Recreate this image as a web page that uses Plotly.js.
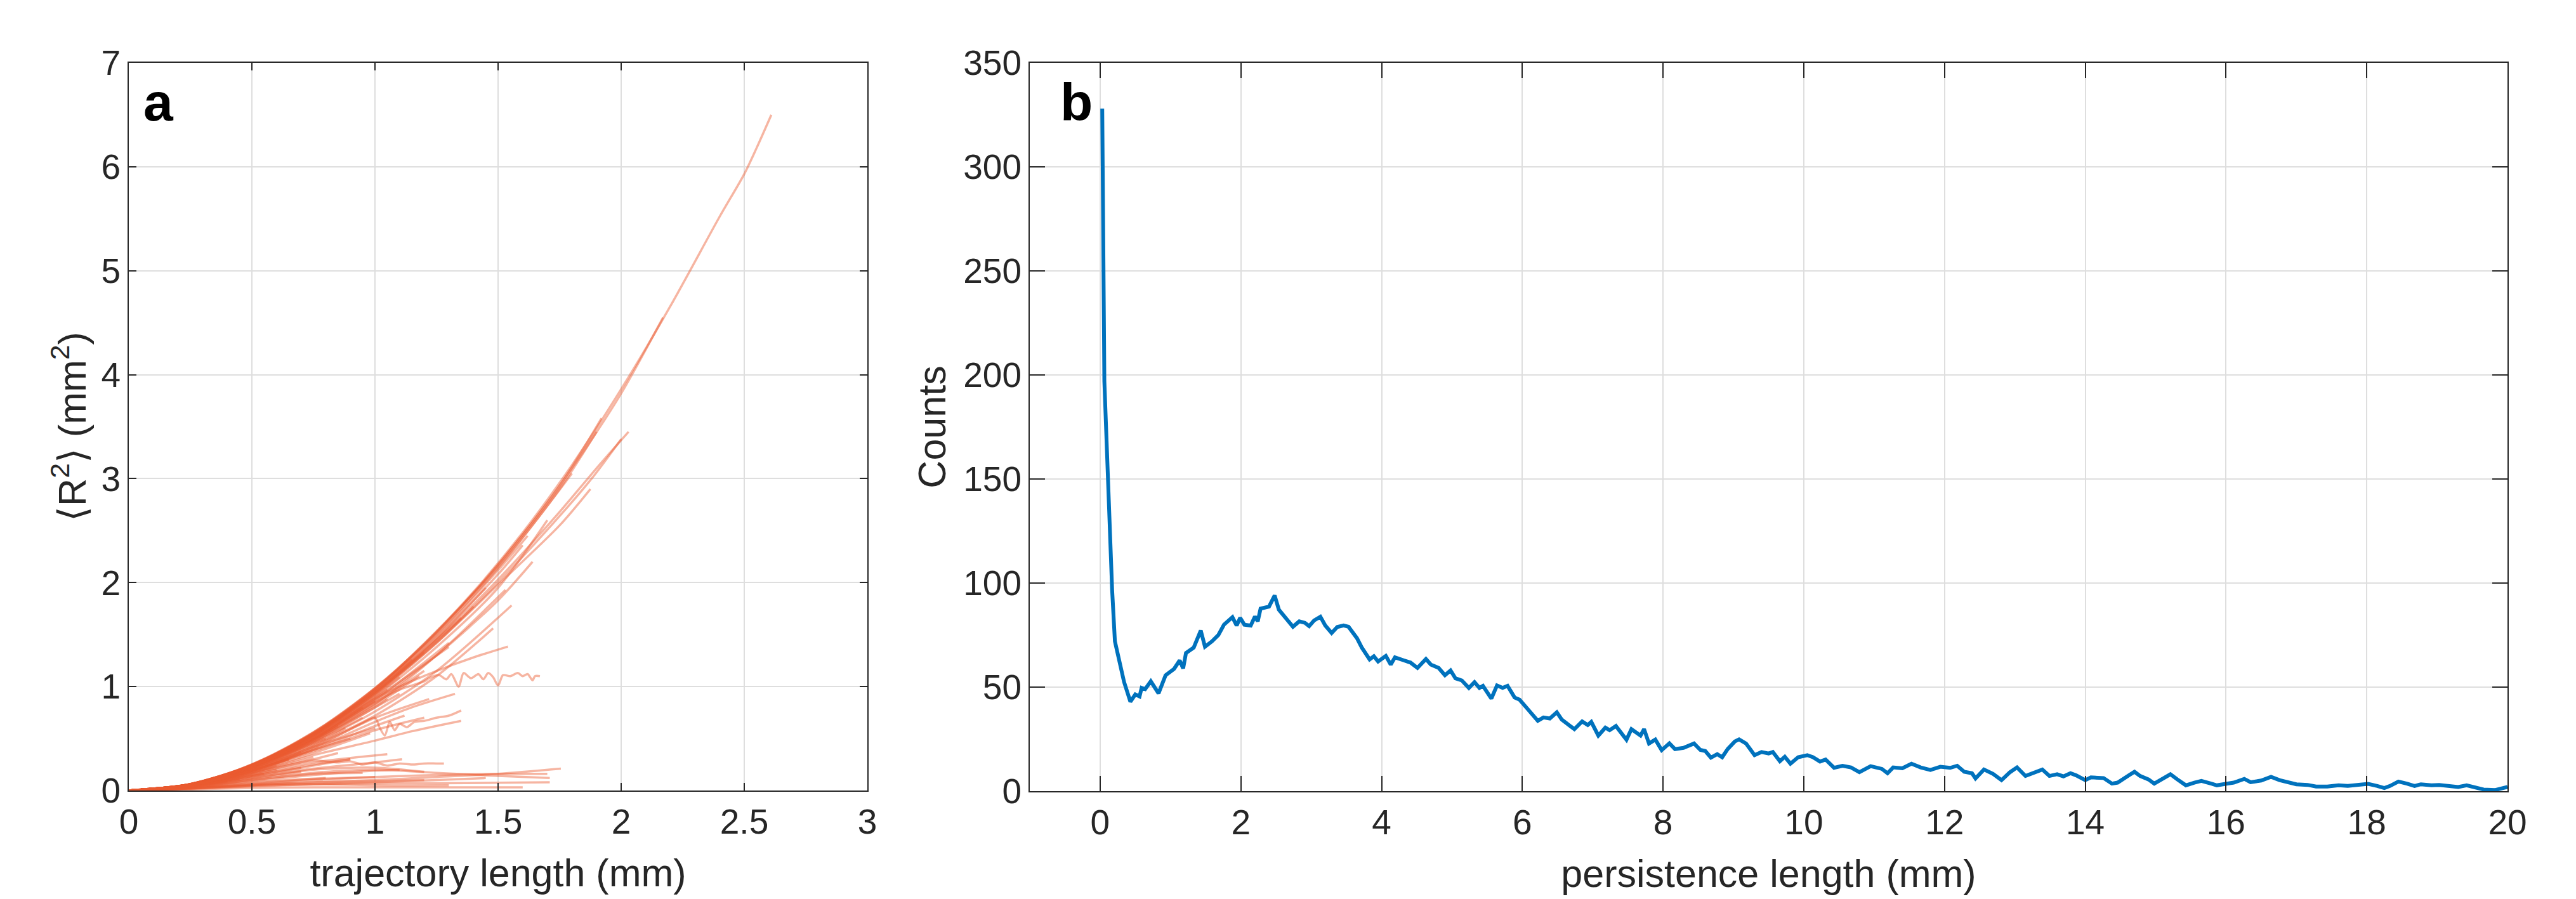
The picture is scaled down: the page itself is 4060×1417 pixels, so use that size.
<!DOCTYPE html>
<html>
<head>
<meta charset="utf-8">
<script src="https://cdn.plot.ly/plotly-3.0.1.min.js"></script>
<style>html,body{margin:0;padding:0;background:#fff;}#chart{width:4060px;height:1417px;}</style>
</head>
<body>
<div id="chart"></div>
<script>
// ---------- Panel a: mean squared end-to-end distance vs trajectory length ----------
const trajLengths = [
  [0,0.2,0.4,0.6,0.8,1.0,1.2,1.4,1.6,1.8,2.0,2.2,2.4,2.5,2.55,2.61],
  [0,0.2,0.4,0.6,0.8,1.0,1.2,1.4,1.6,1.8,2.0,2.17],
  [0,0.25,0.5,0.75,1.0,1.25,1.5,1.75,1.9,2.03],
  [0,0.25,0.5,0.75,1.0,1.25,1.5,1.75,1.88,2.0],
  [0,0.25,0.5,0.75,1.0,1.25,1.5,1.75,1.92],
  [0,0.25,0.5,0.75,1.0,1.25,1.5,1.75,1.9],
  [0,0.25,0.5,0.75,1.0,1.25,1.5,1.62],
  [0,0.25,0.5,0.75,1.0,1.25,1.45],
  [0,0.25,0.5,0.75,1.0,1.2],
  [0,0.25,0.5,0.75,1.0,1.1],
  [0,0.25,0.5,0.75,0.95],
  [0,0.25,0.5,0.75,1.0,1.3],
  [0,0.25,0.5,0.75,1.0,1.25,1.5,1.7],
  [0,0.25,0.5,0.75,1.0,1.25,1.5,1.75,1.875],
  [0,0.25,0.5,0.75,1.0,1.25,1.5,1.64],
  [0,0.25,0.5,0.75,1.0,1.25,1.53],
  [0,0.25,0.5,0.75,1.0,1.25,1.555],
  [0,0.25,0.5,0.75,1.0,1.25,1.48],
  [0,0.25,0.5,0.75,1.0,1.1,1.25,1.4,1.54],
  [0,0.25,0.5,0.75,1.0,1.1,1.2,1.22,1.26,1.29,1.31,1.34,1.36,1.39,1.42,1.44,1.46,1.48,1.5,1.52,1.55,1.58,1.6,1.62,1.64,1.65,1.67],
  [0,0.25,0.5,0.75,1.0,1.15,1.325],
  [0,0.25,0.5,0.75,0.95,1.0,1.02,1.04,1.06,1.08,1.1,1.13,1.16,1.2,1.25,1.3,1.35],
  [0,0.25,0.5,0.75,1.0,1.15,1.35],
  [0,0.25,0.5,0.75,1.0,1.22],
  [0,0.25,0.5,0.75,1.0,1.12],
  [0,0.25,0.5,0.75,0.98],
  [0,0.2,0.4,0.6,0.7,0.75,0.8,0.85,0.9,0.95,1.0,1.05,1.1,1.15,1.2,1.25,1.28],
  [0,0.25,0.5,0.75,1.0,1.11],
  [0,0.25,0.5,0.75,1.0,1.25,1.5,1.755],
  [0,0.25,0.5,0.75,1.0,1.25,1.5,1.71],
  [0,0.25,0.5,0.75,1.0,1.25,1.5,1.71],
  [0,0.25,0.5,0.75,1.0,1.25,1.6],
  [0,0.25,0.5,0.75,1.0,1.25,1.5,1.7],
  [0,0.25,0.5,0.75,0.9],
  [0,0.25,0.5,0.7],
  [0,0.25,0.5,0.75,1.0,1.1],
  [0,0.25,0.5,0.75,1.0],
  [0,0.25,0.5,0.8],
  [0,0.25,0.5,0.75,1.05],
  [0,0.25,0.5,0.6],
  [0,0.25,0.5,0.75,0.85],
  [0,0.25,0.5,0.75,1.0,1.2],
  [0,0.2,0.4,0.6,0.8,1.0,1.3],
  [0,0.25,0.5,0.75,1.0],
  [0,0.25,0.5,0.75,0.9],
  [0,0.25,0.5,0.75,1.0,1.05],
  [0,0.25,0.5,0.75,0.88],
  [0,0.25,0.5,0.65],
  [0,0.25,0.5,0.75,1.0,1.15],
  [0,0.25,0.5,0.75,0.9],
  [0,0.25,0.5,0.75,1.0,1.35],
  [0,0.25,0.5,0.75,1.0,1.25,1.4],
  [0,0.25,0.5,0.7],
  [0,0.25,0.5,0.75,1.0,1.05],
  [0,0.25,0.5,0.75,0.85],
  [0,0.25,0.5,0.75,1.0,1.18],
  [0,0.25,0.5,0.6],
  [0,0.25,0.5,0.75,1.0,1.5,1.8],
  [0,0.25,0.5,0.75,1.0,1.25,1.5,1.6],
  [0,0.25,0.5,0.55],
  [0,0.25,0.4],
  [0,0.2,0.45],
  [0,0.25,0.5,0.75,0.95],
  [0,0.25,0.5,0.75,1.0,1.2],
  [0,0.25,0.5,0.75,1.0,1.25,1.45],
  [0,0.25,0.5,0.75,1.0,1.1],
  [0,0.25,0.5,0.75,0.95],
  [0,0.25,0.5,0.75,1.0,1.2],
  [0,0.25,0.5,0.75,1.0],
  [0,0.25,0.5,0.75,1.0,1.3],
  [0,0.25,0.5,0.75,0.8],
  [0,0.25,0.5,0.7],
  [0,0.25,0.5,0.65],
  [0,0.25,0.5,0.75],
  [0,0.25,0.5,0.6],
  [0,0.25,0.5,0.75,0.9],
  [0,0.25,0.5,0.7],
  [0,0.25,0.5,0.75,1.0,1.2]
];
const trajR2 = [
  [0,0.04,0.16,0.36,0.635,0.985,1.41,1.91,2.48,3.13,3.86,4.66,5.52,5.93,6.18,6.5],
  [0,0.04,0.16,0.355,0.63,0.98,1.4,1.9,2.46,3.1,3.82,4.55],
  [0,0.061,0.244,0.545,0.95,1.45,2.03,2.68,3.1,3.45],
  [0,0.061,0.242,0.54,0.94,1.43,2.0,2.64,3.0,3.38],
  [0,0.062,0.25,0.56,0.985,1.52,2.17,2.93,3.58],
  [0,0.061,0.246,0.552,0.975,1.5,2.14,2.9,3.45],
  [0,0.061,0.244,0.548,0.965,1.49,2.12,2.45],
  [0,0.06,0.24,0.54,0.95,1.46,1.95],
  [0,0.06,0.238,0.53,0.93,1.33],
  [0,0.059,0.235,0.52,0.91,1.09],
  [0,0.059,0.232,0.51,0.8],
  [0,0.058,0.228,0.5,0.87,1.42],
  [0,0.058,0.232,0.52,0.9,1.38,1.95,2.6],
  [0,0.06,0.24,0.535,0.93,1.42,1.98,2.55,2.9],
  [0,0.058,0.23,0.5,0.86,1.3,1.83,2.2],
  [0,0.058,0.228,0.49,0.83,1.3,1.93],
  [0,0.055,0.215,0.46,0.76,1.15,1.78],
  [0,0.055,0.21,0.44,0.72,1.1,1.56],
  [0,0.057,0.225,0.49,0.88,1.0,1.15,1.28,1.385],
  [0,0.057,0.225,0.49,0.85,0.97,1.05,1.08,1.11,1.07,1.12,1.0,1.13,1.08,1.12,1.07,1.13,1.09,1.01,1.11,1.1,1.13,1.1,1.12,1.06,1.1,1.1],
  [0,0.05,0.19,0.4,0.66,0.8,0.93],
  [0,0.05,0.19,0.41,0.65,0.7,0.6,0.53,0.66,0.58,0.64,0.61,0.66,0.67,0.7,0.72,0.77],
  [0,0.045,0.17,0.34,0.48,0.57,0.67],
  [0,0.052,0.2,0.42,0.7,0.88],
  [0,0.05,0.19,0.39,0.62,0.72],
  [0,0.048,0.18,0.36,0.55],
  [0,0.03,0.11,0.22,0.27,0.29,0.28,0.27,0.28,0.25,0.27,0.24,0.26,0.25,0.26,0.26,0.26],
  [0,0.035,0.12,0.21,0.27,0.3],
  [0,0.02,0.05,0.08,0.1,0.13,0.16,0.21],
  [0,0.03,0.1,0.17,0.2,0.17,0.14,0.12],
  [0,0.015,0.04,0.06,0.07,0.07,0.075,0.08],
  [0,0.01,0.025,0.03,0.03,0.03,0.03],
  [0,0.025,0.07,0.11,0.13,0.15,0.16,0.16],
  [0,0.04,0.13,0.24,0.3],
  [0,0.04,0.14,0.22],
  [0,0.03,0.09,0.15,0.19,0.2],
  [0,0.02,0.06,0.1,0.13],
  [0,0.03,0.08,0.12],
  [0,0.045,0.15,0.27,0.35],
  [0,0.05,0.17,0.24],
  [0,0.05,0.16,0.3,0.36],
  [0,0.04,0.12,0.2,0.22,0.18],
  [0,0.015,0.04,0.06,0.06,0.05,0.05],
  [0,0.05,0.2,0.42,0.6],
  [0,0.05,0.19,0.39,0.5],
  [0,0.055,0.215,0.47,0.8,0.88],
  [0,0.052,0.2,0.43,0.6],
  [0,0.05,0.18,0.3],
  [0,0.061,0.244,0.545,0.96,1.26],
  [0,0.06,0.24,0.535,0.77],
  [0,0.06,0.238,0.53,0.935,1.66],
  [0,0.06,0.236,0.525,0.92,1.42,1.77],
  [0,0.06,0.235,0.45],
  [0,0.059,0.23,0.51,0.89,0.97],
  [0,0.058,0.225,0.49,0.62],
  [0,0.057,0.22,0.48,0.82,1.1],
  [0,0.058,0.225,0.32],
  [0,0.061,0.245,0.55,0.97,2.15,3.05],
  [0,0.06,0.24,0.54,0.95,1.47,2.08,2.36],
  [0,0.045,0.14,0.16],
  [0,0.04,0.09],
  [0,0.03,0.11],
  [0,0.035,0.1,0.16,0.17],
  [0,0.025,0.06,0.08,0.09,0.1],
  [0,0.02,0.045,0.06,0.08,0.1,0.12],
  [0,0.056,0.22,0.47,0.8,0.93],
  [0,0.056,0.215,0.46,0.7],
  [0,0.057,0.222,0.48,0.84,1.15],
  [0,0.058,0.228,0.5,0.86],
  [0,0.059,0.232,0.51,0.885,1.38],
  [0,0.055,0.21,0.45,0.5],
  [0,0.054,0.2,0.37],
  [0,0.05,0.19,0.3],
  [0,0.047,0.17,0.32],
  [0,0.045,0.15,0.2],
  [0,0.042,0.14,0.25,0.3],
  [0,0.035,0.11,0.18],
  [0,0.052,0.19,0.38,0.58,0.7]
];
const leftXTicks = [0,0.5,1,1.5,2,2.5,3];
const leftYTicks = [0,1,2,3,4,5,6,7];

// ---------- Panel b: histogram of persistence length ----------
const persistenceLength = [0.03,0.06,0.17,0.21,0.34,0.43,0.5,0.56,0.59,0.64,0.72,0.83,0.93,1.05,1.13,1.18,1.22,1.33,1.43,1.49,1.59,1.68,1.76,1.88,1.94,1.99,2.05,2.14,2.2,2.24,2.28,2.4,2.48,2.54,2.66,2.74,2.83,2.91,2.97,3.04,3.13,3.2,3.29,3.37,3.46,3.53,3.65,3.72,3.83,3.89,3.95,4.06,4.13,4.19,4.32,4.41,4.51,4.63,4.7,4.81,4.9,4.98,5.05,5.14,5.24,5.32,5.39,5.44,5.56,5.64,5.72,5.79,5.89,5.96,6.09,6.22,6.3,6.39,6.49,6.56,6.68,6.74,6.85,6.93,6.98,7.08,7.18,7.24,7.33,7.48,7.55,7.68,7.73,7.8,7.89,7.98,8.09,8.17,8.29,8.44,8.53,8.6,8.68,8.77,8.84,8.92,9.02,9.08,9.18,9.3,9.4,9.5,9.56,9.66,9.73,9.81,9.92,10.05,10.13,10.23,10.31,10.43,10.55,10.67,10.79,10.95,11.11,11.19,11.27,11.4,11.53,11.66,11.8,11.94,12.08,12.18,12.28,12.39,12.44,12.56,12.69,12.81,12.93,13.03,13.15,13.25,13.39,13.49,13.6,13.69,13.79,13.87,14.0,14.08,14.26,14.38,14.46,14.62,14.7,14.78,14.9,14.98,15.1,15.21,15.31,15.43,15.55,15.65,15.79,15.87,16.01,16.11,16.26,16.35,16.5,16.64,16.76,16.88,17.0,17.16,17.28,17.44,17.6,17.73,17.87,18.02,18.15,18.25,18.33,18.45,18.57,18.68,18.77,18.92,19.03,19.18,19.3,19.42,19.54,19.66,19.82,19.94,20.0];
const counts = [328,197,97,72,52.5,43,46.5,45.5,49.6,49,52.8,47,55.7,58.7,62.8,59,66.4,69,77.2,69.4,72,75,80,83.6,79.6,83.3,80,79.6,83.9,81.6,87.7,88.7,94,87.2,82.3,79,81.6,80.9,79.3,82,83.8,79.6,76,78.9,79.6,79,73.5,68.9,63.3,64.8,62.3,65,60.8,64.3,62.8,61.8,59.2,63.5,60.8,59.2,55.7,58,54.2,53.2,49.6,52.4,49.6,50.6,44.5,50.8,49.6,50.6,45,44,38.9,33.8,35.4,34.9,37.9,34.4,31.3,29.8,33.5,31.8,33.3,26.7,30.5,29.3,31.3,24.7,29.8,26.7,29.8,22.9,24.8,19.7,23,20.2,20.8,22.9,19.8,19.3,16.1,17.8,16.3,20.3,23.9,24.9,22.9,17.3,18.8,18.1,18.8,14.4,16.5,13.2,16.3,17.3,16.3,14.2,15.2,11.2,12.2,11.4,9.1,12,10.7,8.6,11.4,11,13.2,11.4,10.2,11.7,11.2,12.2,9.3,8.6,6.1,10.4,8.3,5.3,9.1,11.4,7.3,8.6,10.4,7.3,8.1,7.1,8.6,7.6,5.3,6.6,6.3,3.6,4.1,7.6,9.3,7.3,5.6,3.6,6.1,8.1,5.6,2.8,4.1,4.9,3.6,2.8,3.6,4.1,5.9,4.3,5.1,6.9,5.3,4.1,3.3,3.0,2.2,2.2,2.8,2.5,3.0,3.5,2.5,1.5,2.5,4.6,3.6,2.5,3.3,2.8,3.0,2.2,2.0,2.8,2.0,0.8,0.5,1.2,2.0];
const rightXTicks = [0,2,4,6,8,10,12,14,16,18,20];
const rightYTicks = [0,50,100,150,200,250,300,350];

// ---------- build figure ----------
const W = 4060, H = 1417;
const FONT = '"Liberation Sans", Arial, Helvetica, sans-serif';
const INK = '#262626';
const traces = [];
for (let i = 0; i < trajLengths.length; i++) {
  traces.push({
    x: trajLengths[i], y: trajR2[i], xaxis: 'x', yaxis: 'y',
    type: 'scatter', mode: 'lines',
    line: {color: 'rgba(234,92,48,0.45)', width: 3.5, shape: 'spline', smoothing: 0.8},
    hoverinfo: 'skip', showlegend: false
  });
}
traces.push({
  x: persistenceLength, y: counts, xaxis: 'x2', yaxis: 'y2',
  type: 'scatter', mode: 'lines',
  line: {color: '#0072BD', width: 6},
  hoverinfo: 'skip', showlegend: false
});

function axisBase(extra) {
  return Object.assign({
    showline: true, linecolor: INK, linewidth: 2,
    mirror: 'ticks', ticks: 'inside', tickcolor: INK, tickwidth: 2,
    showgrid: true, gridcolor: '#DEDEDE', gridwidth: 2,
    zeroline: false, tickfont: {family: FONT, size: 55, color: INK},
    automargin: false, fixedrange: true
  }, extra);
}

const layout = {
  width: W, height: H,
  margin: {l: 0, r: 0, t: 0, b: 0},
  paper_bgcolor: '#ffffff', plot_bgcolor: '#ffffff',
  font: {family: FONT, color: INK},
  showlegend: false,
  xaxis: axisBase({
    domain: [203 / W, 1367 / W], anchor: 'y',
    range: [0, 3], tickmode: 'array', tickvals: leftXTicks, ticklen: 12,
    title: {text: 'trajectory length (mm)', font: {family: FONT, size: 61, color: INK}, standoff: 29}
  }),
  yaxis: axisBase({
    domain: [1 - 1246 / H, 1 - 99 / H], anchor: 'x',
    range: [0, 7], tickmode: 'array', tickvals: leftYTicks, ticklen: 12,
    title: {text: '⟨R<sup>2</sup>⟩ (mm<sup>2</sup>)', font: {family: FONT, size: 61, color: INK}, standoff: 4}
  }),
  xaxis2: axisBase({
    domain: [1623 / W, 3952 / W], anchor: 'y2',
    range: [-1, 20], tickmode: 'array', tickvals: rightXTicks, ticklen: 24,
    title: {text: 'persistence length (mm)', font: {family: FONT, size: 61, color: INK}, standoff: 29}
  }),
  yaxis2: axisBase({
    domain: [1 - 1247 / H, 1 - 99 / H], anchor: 'x2',
    range: [0, 350], tickmode: 'array', tickvals: rightYTicks, ticklen: 24,
    title: {text: 'Counts', font: {family: FONT, size: 61, color: INK}, standoff: 8}
  }),
  annotations: [
    {text: '<b>a</b>', xref: 'paper', yref: 'paper', x: 224 / W, y: 1 - 161 / H,
     xanchor: 'left', yanchor: 'middle', showarrow: false,
     font: {family: FONT, size: 84, color: '#000000'}},
    {text: '<b>b</b>', xref: 'paper', yref: 'paper', x: 1669 / W, y: 1 - 161 / H,
     xanchor: 'left', yanchor: 'middle', showarrow: false,
     font: {family: FONT, size: 84, color: '#000000'}}
  ]
};

Plotly.newPlot('chart', traces, layout, {staticPlot: true, displayModeBar: false});
</script>
</body>
</html>
